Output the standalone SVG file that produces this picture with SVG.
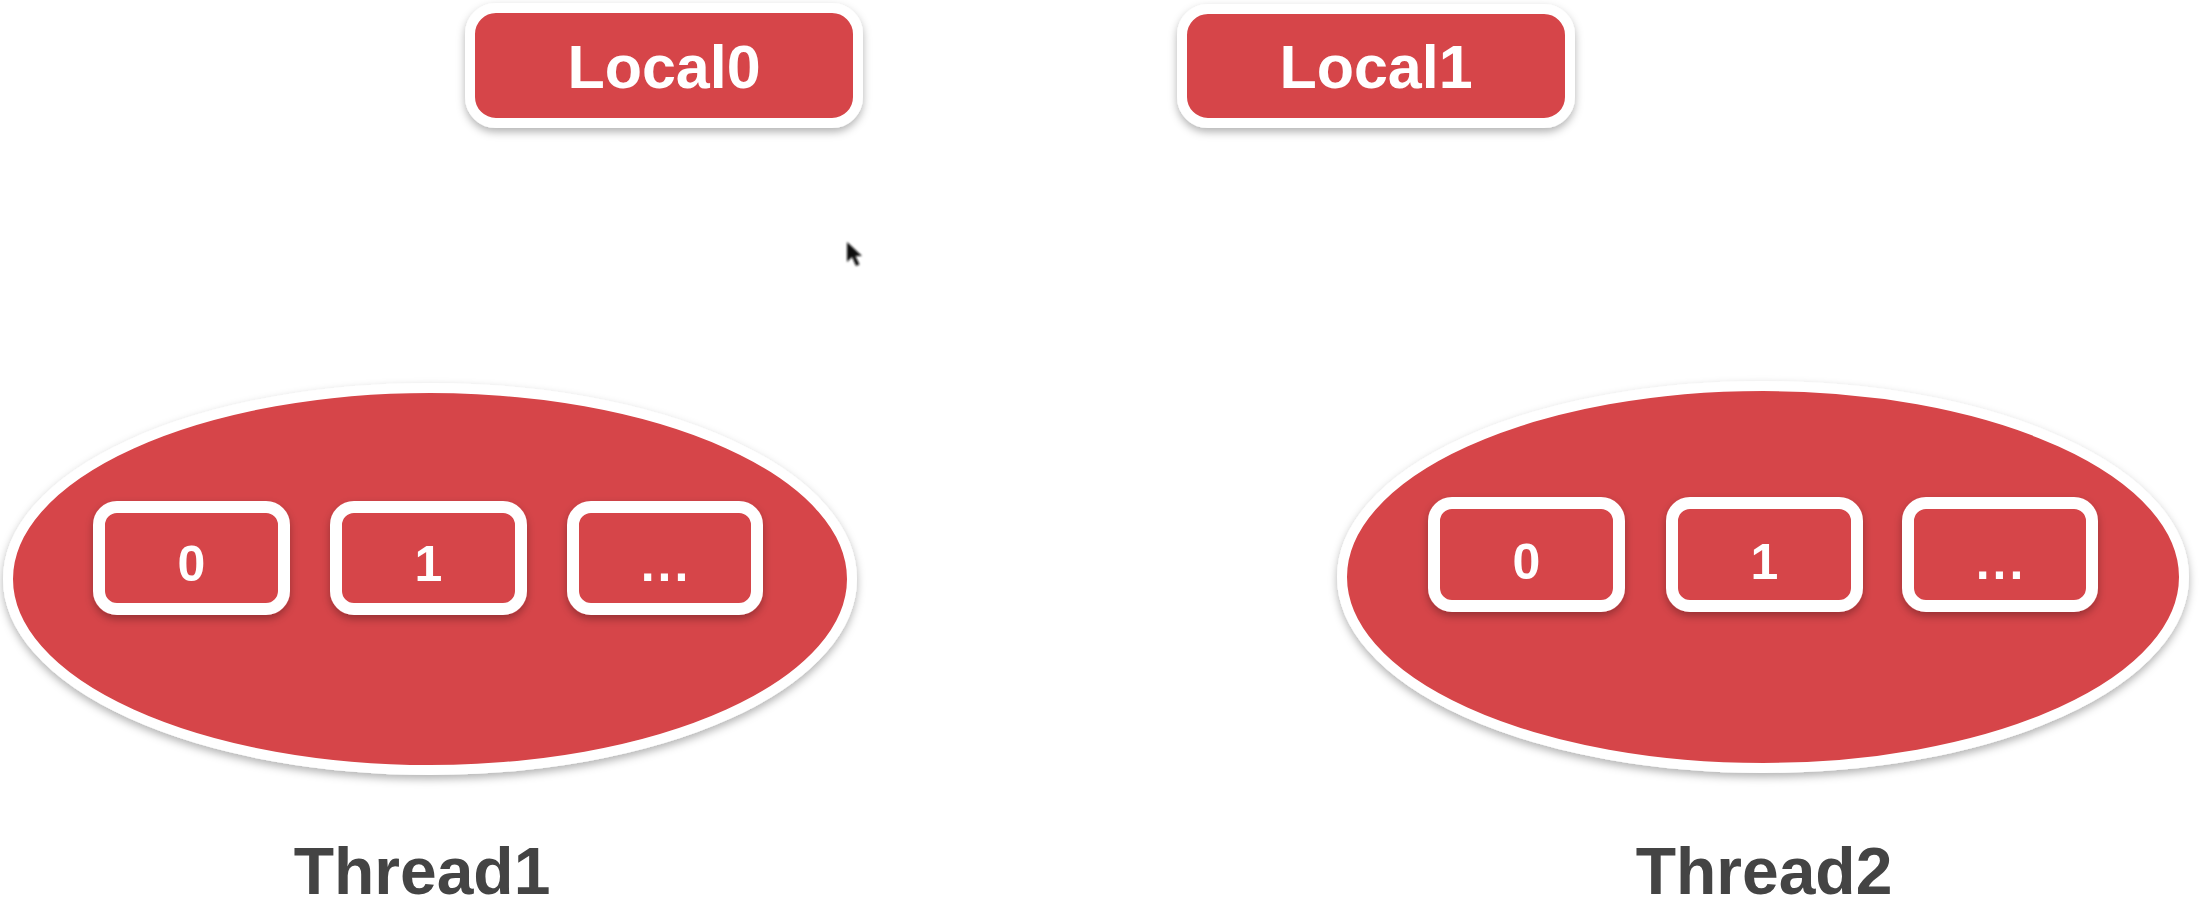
<svg xmlns="http://www.w3.org/2000/svg" width="2200" height="902" viewBox="0 0 2200 902">
  <defs>
    <filter id="shadow" x="-10%" y="-10%" width="120%" height="130%">
      <feDropShadow dx="0" dy="4" stdDeviation="4" flood-color="#000" flood-opacity="0.3"/>
    </filter>
    <filter id="blur" x="-50%" y="-50%" width="200%" height="200%">
      <feGaussianBlur stdDeviation="1.2"/>
    </filter>
  </defs>
  <style>
    .local { fill: #d64548; stroke: #ffffff; stroke-width: 10; filter: url(#shadow); }
    .thread { fill: #d64548; stroke: #ffffff; stroke-width: 10; filter: url(#shadow); }
    .slot { fill: #d64548; stroke: #ffffff; stroke-width: 12; filter: url(#shadow); }
    .ltxt { font-family: "Liberation Sans", Arial, sans-serif; font-weight: bold; font-size: 61px; fill: #ffffff; text-anchor: middle; }
    .stxt { font-family: "Liberation Sans", Arial, sans-serif; font-weight: bold; font-size: 50px; fill: #ffffff; text-anchor: middle; }
    .ttxt { font-family: "Liberation Sans", Arial, sans-serif; font-weight: bold; font-size: 66px; fill: #444444; text-anchor: middle; }
  </style>
  <rect x="0" y="0" width="2200" height="902" fill="#ffffff"/>

  <g id="local0">
    <rect class="local" x="470" y="8" width="388" height="115" rx="26"/>
    <text class="ltxt" x="664" y="88">Local0</text>
  </g>
  <g id="local1">
    <rect class="local" x="1182" y="9" width="388" height="114" rx="26"/>
    <text class="ltxt" x="1376" y="88">Local1</text>
  </g>

  <g id="thread1">
    <ellipse class="thread" cx="430" cy="579" rx="422" ry="191"/>
    <g id="t1-slot0">
      <rect class="slot" x="99" y="507" width="185" height="102" rx="18"/>
      <text class="stxt" x="191.5" y="581">0</text>
    </g>
    <g id="t1-slot1">
      <rect class="slot" x="336" y="507" width="185" height="102" rx="18"/>
      <text class="stxt" x="428.5" y="581">1</text>
    </g>
    <g id="t1-slot2">
      <rect class="slot" x="573" y="507" width="184" height="102" rx="18"/>
      <text class="stxt" x="666" y="581" letter-spacing="3">...</text>
    </g>
    <text class="ttxt" x="422" y="894">Thread1</text>
  </g>

  <g id="thread2">
    <ellipse class="thread" cx="1763" cy="577" rx="421" ry="191"/>
    <g id="t2-slot0">
      <rect class="slot" x="1434" y="503" width="185" height="103" rx="18"/>
      <text class="stxt" x="1526.5" y="579">0</text>
    </g>
    <g id="t2-slot1">
      <rect class="slot" x="1672" y="503" width="185" height="103" rx="18"/>
      <text class="stxt" x="1764.5" y="579">1</text>
    </g>
    <g id="t2-slot2">
      <rect class="slot" x="1908" y="503" width="184" height="103" rx="18"/>
      <text class="stxt" x="2001" y="579" letter-spacing="3">...</text>
    </g>
    <text class="ttxt" x="1764" y="894">Thread2</text>
  </g>

  <g id="connectors"></g>

  <g id="cursor" filter="url(#blur)">
    <path d="M847,242 L847,262 L852,257 L856,266 L859.5,264.5 L855.5,256 L862,256 Z" fill="#111111"/>
  </g>
</svg>
